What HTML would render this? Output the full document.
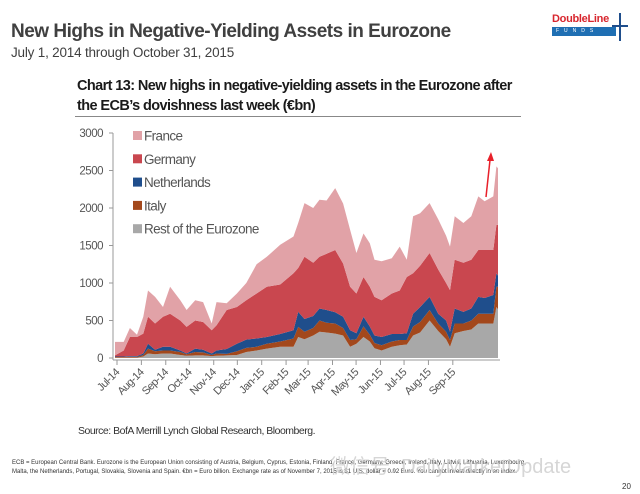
<!DOCTYPE html>
<html><head><meta charset="utf-8">
<style>
body{margin:0;width:640px;height:494px;background:#fff;overflow:hidden;font-family:"Liberation Sans",sans-serif;position:relative}
.abs{position:absolute;white-space:nowrap}
</style></head><body>
<div class="abs" style="left:11px;top:21px;font-size:19px;font-weight:bold;color:#404040;letter-spacing:-0.5px">New Highs in Negative-Yielding Assets in Eurozone</div>
<div class="abs" style="left:11px;top:45px;font-size:13.5px;color:#404040;letter-spacing:-0.2px">July 1, 2014 through October 31, 2015</div>
<div class="abs" style="left:552px;top:13px;width:76px;height:28px">
 <div style="font-size:11px;font-weight:bold;color:#d8262e;letter-spacing:-0.3px">DoubleLine</div>
 <div style="background:#1f6fb3;color:#fff;font-size:5px;letter-spacing:5px;height:9px;line-height:9px;width:60px;padding-left:4px;margin-top:2px">FUNDS</div>
 <div style="position:absolute;left:67px;top:0;width:2px;height:28px;background:#1f4e8c"></div>
 <div style="position:absolute;left:60px;top:12px;width:16px;height:2px;background:#1f4e8c"></div>
</div>
<div class="abs" style="left:77px;top:76px;font-size:14.5px;font-weight:bold;color:#1a1a1a;line-height:20px;letter-spacing:-0.6px">Chart 13: New highs in negative-yielding assets in the Eurozone after<br>the ECB’s dovishness last week (€bn)</div>
<div class="abs" style="left:75px;top:116px;width:446px;height:1px;background:#888"></div>
<svg class="abs" style="left:0;top:0" width="640" height="494" id="chart"></svg>
<div class="abs" style="left:78px;top:425px;font-size:10.5px;color:#333;letter-spacing:-0.5px">Source: BofA Merrill Lynch Global Research, Bloomberg.</div>
<div class="abs" style="left:12px;top:459px;font-size:6px;color:#333;line-height:9px">ECB = European Central Bank. Eurozone is the European Union consisting of Austria, Belgium, Cyprus, Estonia, Finland, France, Germany, Greece, Ireland, Italy, Latvia, Lithuania, Luxembourg,<br>Malta, the Netherlands, Portugal, Slovakia, Slovenia and Spain. €bn = Euro billion. Exchange rate as of November 7, 2015 is $1 U.S. dollar = 0.92 Euro. You cannot invest directly in an index.</div>
<div class="abs" style="left:330px;top:450px;font-size:20px;color:#ccc;opacity:0.8">微信号: DailyMarketUpdate</div>
<div class="abs" style="left:622px;top:482px;font-size:8px;color:#333">20</div>
<script>
const days=[0,11,19,28,36,42,51,61,70,83,91,102,112,123,129,142,155,167,180,193,210,227,233,241,252,260,269,280,290,299,307,316,324,330,339,352,362,371,379,388,400,411,421,426,432,443,453,462,470,481,485,487];
const rest=[5,5,5,5,20,60,50,60,60,40,30,35,35,25,30,35,40,80,100,125,150,150,280,250,300,350,340,325,300,150,190,280,220,130,100,150,170,180,300,340,500,360,250,150,330,360,380,460,460,460,680,650];
const italy=[8,8,10,10,20,65,40,40,40,40,20,45,40,15,30,20,50,55,50,65,70,110,135,100,100,150,130,135,100,90,60,140,90,70,70,70,70,60,120,140,140,100,100,90,130,100,120,130,130,130,270,300];
const netherlands=[7,7,10,10,20,65,20,50,50,20,10,45,35,20,40,65,100,110,110,90,100,110,200,170,160,160,170,150,150,130,80,130,110,100,110,100,80,90,170,200,175,130,150,110,200,155,160,225,210,250,180,150];
const germany=[15,80,255,255,265,360,350,400,440,400,355,375,370,310,335,520,490,525,600,670,660,760,585,830,710,690,750,830,710,580,530,530,530,515,490,540,580,750,540,550,585,590,500,555,650,655,650,625,640,600,645,675];
const france=[180,115,120,30,225,350,355,130,360,270,225,270,265,90,310,90,180,230,390,400,530,490,600,715,730,760,710,825,800,760,540,580,580,495,520,470,585,230,760,700,665,670,630,580,580,530,580,715,650,715,780,755];
const yTicks=[0,500,1000,1500,2000,2500,3000];
const monthLabels=["Jul-14","Aug-14","Sep-14","Oct-14","Nov-14","Dec-14","Jan-15","Feb-15","Mar-15","Apr-15","May-15","Jun-15","Jul-15","Aug-15","Sep-15"];
const monthStartDays=[0,31,62,92,123,153,184,215,243,274,304,335,365,396,427];
const seriesNames=["Rest of the Eurozone","Italy","Netherlands","Germany","France"];
const series=[rest,italy,netherlands,germany,france];
const colors=["#a8a8a8","#a3481c","#1f4e8c","#c9474f","#e1a2a7"];
const X0=115,X1=498,Y0=358,YMAX=3000,YH=225,DMAX=487;
const xs=d=>X0+d*(X1-X0)/DMAX;
const ys=v=>Y0-v*YH/YMAX;
const svg=document.getElementById('chart');
const NS="http://www.w3.org/2000/svg";
function mk(t,a){const e=document.createElementNS(NS,t);for(const k in a)e.setAttribute(k,a[k]);svg.appendChild(e);return e;}
let base=days.map(()=>0);
series.forEach((s,si)=>{
  const top=base.map((b,i)=>b+s[i]);
  let d="M"+days.map((dd,i)=>xs(dd).toFixed(1)+","+ys(top[i]).toFixed(1)).join("L");
  for(let i=days.length-1;i>=0;i--)d+="L"+xs(days[i]).toFixed(1)+","+ys(base[i]).toFixed(1);
  const p=mk("path",{d:d+"Z",fill:colors[si]});
  
  
  base=top;
});
const ax=mk("line",{x1:X0-2,y1:ys(YMAX),x2:X0-2,y2:Y0+2,stroke:"#999","stroke-width":1});


const xa=mk("line",{x1:X0-2,y1:Y0+2,x2:X1+2,y2:Y0+2,stroke:"#999","stroke-width":1});


yTicks.forEach(v=>{
  mk("line",{x1:X0-6,y1:ys(v),x2:X0-2,y2:ys(v),stroke:"#999"});
  const t=mk("text",{x:X0-12,y:ys(v)+4,"text-anchor":"end","font-size":11.5,fill:"#555","letter-spacing":"-0.5"});
  t.textContent=v;
  
  
});
monthLabels.forEach((m,i)=>{
  const x=xs(monthStartDays[i])+2;
  mk("line",{x1:x,y1:Y0+2,x2:x,y2:Y0+7,stroke:"#999"});
  const t=mk("text",{x:x+3,y:Y0+15,"text-anchor":"end","font-size":11,fill:"#555","letter-spacing":"-0.6",transform:`rotate(-45 ${x+3} ${Y0+15})`});
  t.textContent=m;
  
  
});
const legOrder=[4,3,2,1,0];
legOrder.forEach((si,r)=>{
  const y=136+r*23.3;
  const sq=mk("rect",{x:133,y:y-5,width:9,height:9,fill:colors[si]});
  
  
  const t=mk("text",{x:144,y:y+4.5,"font-size":13.5,fill:"#555","letter-spacing":"-0.6"});
  t.textContent=seriesNames[si];
  
  
});
const ar=mk("line",{x1:486,y1:197,x2:490,y2:160,stroke:"#e8202a","stroke-width":1.5});


const ah=mk("polygon",{points:"491,152 487,161 494,161",fill:"#e8202a"});


</script>
</body></html>
